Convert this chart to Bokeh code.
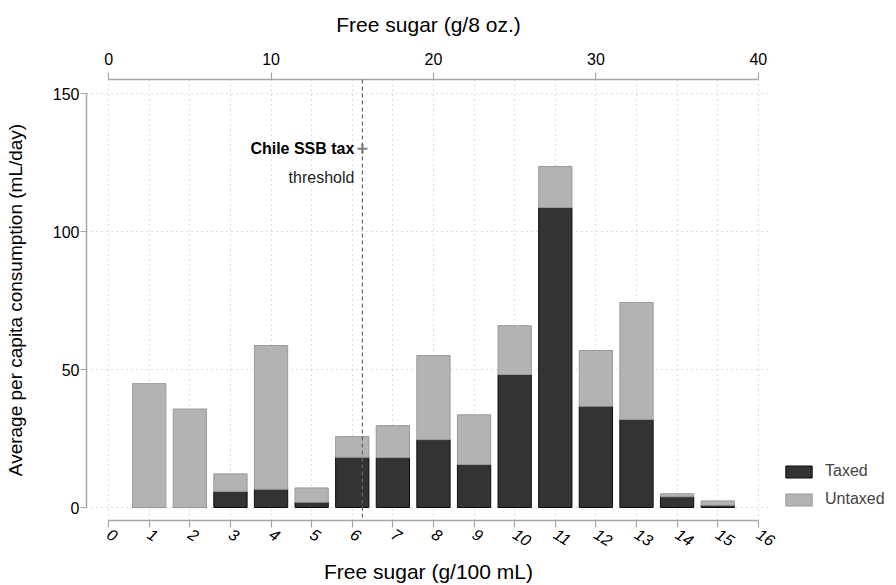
from bokeh.plotting import figure
from bokeh.models import (Range1d, LinearAxis, FixedTicker, Legend, LegendItem,
                          ColumnDataSource, Span, Label)
from bokeh.embed import file_html
from bokeh.resources import INLINE

# ---- data ----
sugar_bins = [1, 2, 3, 4, 5, 6, 7, 8, 9, 10, 11, 12, 13, 14, 15]
taxed = [0, 0, 5.8, 6.6, 1.9, 18.2, 18.1, 24.6, 15.6, 48.2, 108.7, 36.7, 31.9, 3.9, 0.8]
untaxed = [44.9, 35.7, 6.4, 52.1, 5.2, 7.5, 11.6, 30.5, 18.0, 17.7, 14.9, 20.2, 42.4, 1.1, 1.6]
bottom_ticks = list(range(0, 17))
top_ticks = [0, 10, 20, 30, 40]
left_ticks = [0, 50, 100, 150]
threshold = 6.25
oz_factor = 2.5

FONT = "Liberation Sans"
AXIS_GREY = "#a6a6a6"

x_start, x_end = -0.545, 16.3
y_start, y_end = -4.7, 155.1

p = figure(frame_width=684, frame_height=441, output_backend="svg", toolbar_location=None,
           x_range=Range1d(x_start, x_end), y_range=Range1d(y_start, y_end),
           x_axis_location="below", min_border_left=86, min_border_top=79,
           min_border_right=0, min_border_bottom=0)
p.outline_line_color = None
p.background_fill_color = "white"

tot = [t + u for t, u in zip(taxed, untaxed)]
src = ColumnDataSource(dict(x=sugar_bins, taxed=taxed, total=tot))
r_tax = p.vbar(x="x", top="taxed", bottom=0, width=0.82, source=src,
               fill_color="#333333", line_color="#0d0d0d", line_width=1)
r_un = p.vbar(x="x", top="total", bottom="taxed", width=0.82, source=src,
              fill_color="#b3b3b3", line_color="#9a9a9a", line_width=1)

# threshold line
p.add_layout(Span(location=threshold, dimension="height", line_color="#666666",
                  line_dash="4 3", line_width=1.2))
p.scatter([threshold], [130], marker="cross", size=10, line_color="#808080", line_width=2)
p.add_layout(Label(x=threshold, y=130, x_offset=-8, text="Chile SSB tax", text_align="right",
                   text_baseline="middle", text_font=FONT, text_font_size="16px",
                   text_font_style="bold", text_color="black"))
p.add_layout(Label(x=threshold, y=119.6, x_offset=-8, text="threshold", text_align="right",
                   text_baseline="middle", text_font=FONT, text_font_size="16px",
                   text_color="#222222"))

# axes
def style_axis(ax):
    ax.axis_line_color = AXIS_GREY
    ax.axis_line_width = 1.5
    ax.major_tick_line_color = AXIS_GREY
    ax.major_tick_line_width = 1.2
    ax.major_tick_out = 7
    ax.major_tick_in = 0
    ax.minor_tick_line_color = None
    ax.major_label_text_font = FONT
    ax.major_label_text_font_size = "16px"
    ax.major_label_text_color = "black"
    ax.axis_label_text_font = FONT
    ax.axis_label_text_font_size = "21px"
    ax.axis_label_text_font_style = "normal"
    ax.axis_label_text_color = "black"

xa = p.xaxis[0]
style_axis(xa)
xa.ticker = FixedTicker(ticks=bottom_ticks)
xa.bounds = (0, 16)
xa.axis_label = "Free sugar (g/100 mL)"
xa.major_label_orientation = -0.55
xa.major_label_text_font_style = "italic"
xa.major_label_standoff = 5
xa.axis_label_standoff = 5

ya = p.yaxis[0]
style_axis(ya)
ya.ticker = FixedTicker(ticks=left_ticks)
ya.bounds = (0, 150)
ya.axis_label = "Average per capita consumption (mL/day)"
ya.axis_label_text_font_size = "19px"
ya.major_tick_out = 6
ya.major_label_standoff = 1
ya.axis_label_standoff = 24

p.extra_x_ranges = {"oz": Range1d(x_start * oz_factor, x_end * oz_factor)}
ta = LinearAxis(x_range_name="oz")
style_axis(ta)
ta.ticker = FixedTicker(ticks=top_ticks)
ta.bounds = (0, 40)
ta.axis_label = "Free sugar (g/8 oz.)"
ta.major_label_standoff = 8
ta.axis_label_standoff = 14
p.add_layout(ta, "above")

# grids
p.xgrid.ticker = FixedTicker(ticks=bottom_ticks)
p.ygrid.ticker = FixedTicker(ticks=left_ticks)
for g in (p.xgrid[0], p.ygrid[0]):
    g.grid_line_color = "#bdbdbd"
    g.grid_line_dash = "1 4"
    g.grid_line_width = 1

legend = Legend(items=[LegendItem(label="Taxed", renderers=[r_tax]),
                       LegendItem(label="Untaxed", renderers=[r_un])],
                location="bottom_left", border_line_color=None,
                background_fill_alpha=0, label_text_font=FONT,
                label_text_font_size="16px", glyph_width=33, glyph_height=15,
                spacing=10, padding=2, margin=12, label_standoff=10)
p.add_layout(legend, "right")

open("out.html", "w").write(file_html(p, INLINE))
